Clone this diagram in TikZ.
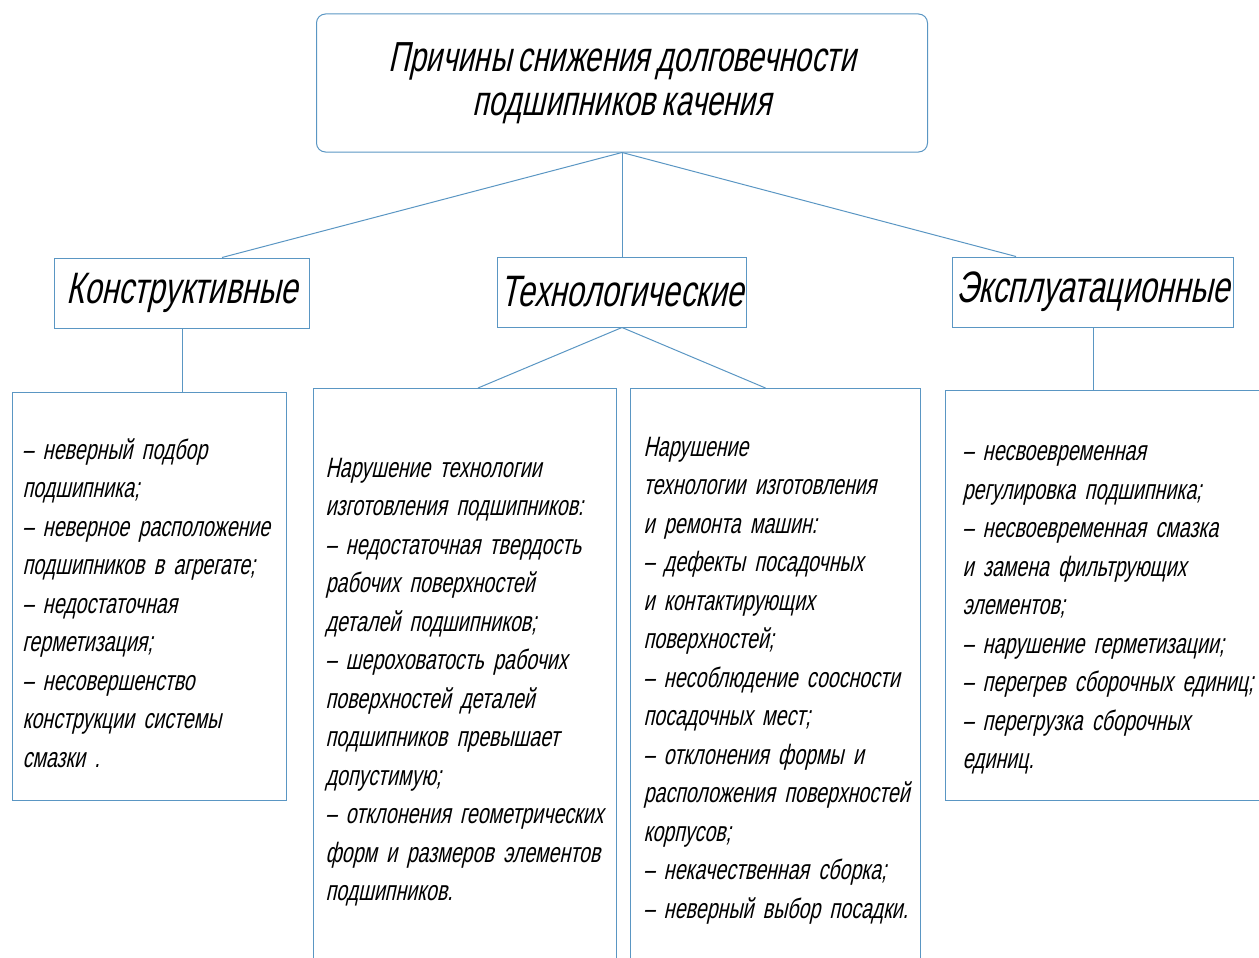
\documentclass[tikz,border=0pt]{standalone}
\usepackage{fontspec}
\setmainfont[FakeSlant=0.22,FakeStretch=0.7,WordSpace=0.8]{Liberation Sans}
\usepackage{tikz}
\definecolor{boxblue}{RGB}{90,150,195}
\newcommand{\padline}[1]{\rule{0pt}{#1}}

\begin{document}
\begin{tikzpicture}[
        x=1pt, y=-1pt,
        headbox/.style={draw=boxblue, line width=1pt, rounded corners=9pt, align=center,
            minimum width=611pt, minimum height=138pt, font=\fontsize{42}{44}\selectfont},
        groupbox/.style={draw=boxblue, line width=1pt, minimum height=70pt,
            font=\fontsize{44}{50}\selectfont},
        listbox/.style={draw=boxblue, line width=1pt, anchor=north west, align=left,
            inner xsep=0pt, inner ysep=0pt, font=\fontsize{28}{38.5}\selectfont}
        ,link/.style={draw=boxblue, line width=1pt}
    ]

    \useasboundingbox (0,0) rectangle (1259,958);
    \clip (0,0) rectangle (1259,958);

    % Nodes
    \node[headbox] (root) at (622,83) {Причины снижения долговечности\\
        подшипников качения};

    \node[groupbox, minimum width=255pt] (konstr) at (182,293) {Конструктивные};
    \node[groupbox, minimum width=235pt] (tech) at (622,292) {Технологические};
    \node[groupbox, minimum width=270pt] (expl) at (1093,292) {Эксплуатационные};

    \node[listbox, text width=274pt, minimum height=408pt] (klist) at (12,392) {%
      \leftskip=10pt
      \padline{34pt}– неверный подбор\\
      подшипника;\\
      – неверное расположение\\
      подшипников в агрегате;\\
      – недостаточная\\
      герметизация;\\
      – несовершенство\\
      конструкции системы\\
      смазки .\par};
    \node[listbox, text width=303pt, minimum height=580pt] (tlist) at (313,388) {%
      \leftskip=12pt
      \padline{27pt}Нарушение технологии\\
      изготовления подшипников:\\
      – недостаточная твердость\\
      рабочих поверхностей\\
      деталей подшипников;\\
      – шероховатость рабочих\\
      поверхностей деталей\\
      подшипников превышает\\
      допустимую;\\
      – отклонения геометрических\\
      форм и размеров элементов\\
      подшипников.\par};
    \node[listbox, text width=290pt, minimum height=580pt] (trlist) at (630,388) {%
      \leftskip=13pt
      \padline{23pt}Нарушение\\
      технологии изготовления\\
      и ремонта машин:\\
      – дефекты посадочных\\
      и контактирующих\\
      поверхностей;\\
      – несоблюдение соосности\\
      посадочных мест;\\
      – отклонения формы и\\
      расположения поверхностей\\
      корпусов;\\
      – некачественная сборка;\\
      – неверный выбор посадки.\par};
    \node[listbox, text width=320pt, minimum height=410pt] (elist) at (945,390) {%
      \leftskip=17pt
      \padline{44pt}– несвоевременная\\
      регулировка подшипника;\\
      – несвоевременная смазка\\
      и замена фильтрующих\\
      элементов;\\
      – нарушение герметизации;\\
      – перегрев сборочных единиц;\\
      – перегрузка сборочных\\
      единиц.\par};

    % Edges
    \draw[link] (root.south) -- ([xshift=40pt]konstr.north);
    \draw[link] (root.south) -- (tech.north);
    \draw[link] (root.south) -- ([xshift=-77pt]expl.north);
    \draw[link] (konstr.south) -- (konstr.south |- klist.north);
    \draw[link] (tech.south) -- ([xshift=13pt]tlist.north);
    \draw[link] (tech.south) -- ([xshift=-10pt]trlist.north);
    \draw[link] (expl.south) -- (expl.south |- elist.north);

\end{tikzpicture}
\end{document}
